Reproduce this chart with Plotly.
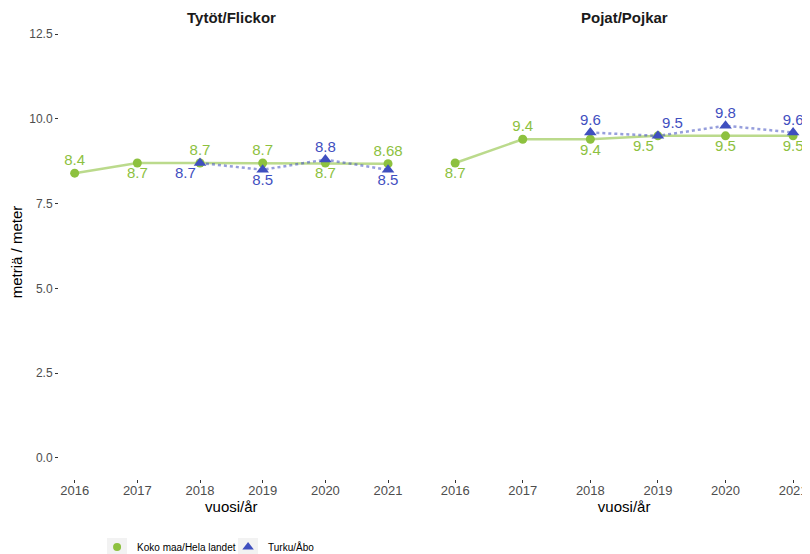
import plotly.graph_objects as go

years = [2016, 2017, 2018, 2019, 2020, 2021]
turku_years = [2018, 2019, 2020, 2021]

girls_all = [8.4, 8.7, 8.7, 8.7, 8.7, 8.68]
girls_turku = [8.7, 8.5, 8.8, 8.5]
boys_all = [8.7, 9.4, 9.4, 9.5, 9.5, 9.5]
boys_turku = [9.6, 9.5, 9.8, 9.6]

girls_all_labels = ["8.4", "8.7", "8.7", "8.7", "8.7", "8.68"]
girls_turku_labels = ["8.7", "8.5", "8.8", "8.5"]
boys_all_labels = ["8.7", "9.4", "9.4", "9.5", "9.5", "9.5"]
boys_turku_labels = ["9.6", "9.5", "9.8", "9.6"]

girls_all_pos = ["top center", "bottom center", "top center", "top center", "bottom center", "top center"]
girls_turku_pos = ["bottom left", "bottom center", "top center", "bottom center"]
boys_all_pos = ["bottom center", "top center", "bottom center", "bottom left", "bottom center", "bottom center"]
boys_turku_pos = ["top center", "top right", "top center", "top center"]

series_names = ["Koko maa/Hela landet", "Turku/Åbo"]
panel_titles = ["Tytöt/Flickor", "Pojat/Pojkar"]
y_ticks = [0.0, 2.5, 5.0, 7.5, 10.0, 12.5]
y_tick_text = ["0.0", "2.5", "5.0", "7.5", "10.0", "12.5"]

GREEN = "#8DC13F"
GREEN_LINE = "rgba(141,193,63,0.6)"
BLUE = "#3F4FBF"
BLUE_LINE = "rgba(63,79,191,0.55)"
FAM = "Liberation Sans, Arial, sans-serif"
LABEL_FONT = dict(family=FAM, size=15)

fig = go.Figure()

panels = [
    ("x", "y", girls_all, girls_all_labels, girls_all_pos, girls_turku, girls_turku_labels, girls_turku_pos),
    ("x2", "y2", boys_all, boys_all_labels, boys_all_pos, boys_turku, boys_turku_labels, boys_turku_pos),
]
for xa, ya, a_vals, a_lab, a_pos, t_vals, t_lab, t_pos in panels:
    fig.add_trace(go.Scatter(
        x=years, y=a_vals, xaxis=xa, yaxis=ya, mode="lines",
        line=dict(color=GREEN_LINE, width=2.5), showlegend=False, hoverinfo="skip"))
    fig.add_trace(go.Scatter(
        x=turku_years, y=t_vals, xaxis=xa, yaxis=ya, mode="lines",
        line=dict(color=BLUE_LINE, width=2.5, dash="dot"), showlegend=False, hoverinfo="skip"))
    fig.add_trace(go.Scatter(
        x=years, y=a_vals, xaxis=xa, yaxis=ya, mode="markers",
        marker=dict(color=GREEN, size=9, symbol="circle"),
        showlegend=False, name=series_names[0]))
    fig.add_trace(go.Scatter(
        x=turku_years, y=t_vals, xaxis=xa, yaxis=ya, mode="markers",
        marker=dict(color=BLUE, size=11, symbol="triangle-up"),
        showlegend=False, name=series_names[1]))
    # value labels (small transparent anchor markers keep the labels close)
    fig.add_trace(go.Scatter(
        x=years, y=a_vals, xaxis=xa, yaxis=ya, mode="markers+text",
        marker=dict(color="rgba(0,0,0,0)", size=5),
        text=a_lab, textposition=a_pos, textfont=dict(color=GREEN, **LABEL_FONT),
        cliponaxis=False, showlegend=False, hoverinfo="skip"))
    fig.add_trace(go.Scatter(
        x=turku_years, y=t_vals, xaxis=xa, yaxis=ya, mode="markers+text",
        marker=dict(color="rgba(0,0,0,0)", size=5),
        text=t_lab, textposition=t_pos, textfont=dict(color=BLUE, **LABEL_FONT),
        cliponaxis=False, showlegend=False, hoverinfo="skip"))

# legend-only entries
fig.add_trace(go.Scatter(x=[None], y=[None], mode="markers", name=series_names[0],
                         marker=dict(color=GREEN, size=8, symbol="circle")))
fig.add_trace(go.Scatter(x=[None], y=[None], mode="markers", name=series_names[1],
                         marker=dict(color=BLUE, size=10, symbol="triangle-up")))

xtickfont = dict(family=FAM, size=13, color="#4d4d4d")
ytickfont = dict(family=FAM, size=12, color="#4d4d4d")
titlefont = dict(family=FAM, size=15, color="#000000")


def xaxis_cfg(domain, anchor):
    return dict(domain=domain, anchor=anchor, range=[2015.75, 2021.25], tickmode="array",
                tickvals=years, ticktext=[str(y) for y in years], ticks="outside", ticklen=3,
                tickcolor="#333333", tickfont=xtickfont, showgrid=False, zeroline=False,
                showline=False, automargin=False, ticklabelstandoff=-4,
                title=dict(text="vuosi/år", font=titlefont, standoff=0))


ycommon = dict(range=[-0.62, 12.77], tickmode="array", tickvals=y_ticks, ticktext=y_tick_text,
               ticklen=3, tickcolor="#333333", tickfont=ytickfont,
               showgrid=False, zeroline=False, showline=False, automargin=False, domain=[0, 1])

# light grey legend key backgrounds (ggplot style)
key_boxes = [
    dict(type="rect", xref="paper", yref="paper", x0=0.0639, x1=0.0905, y0=-0.1696, y1=-0.130,
         fillcolor="#f2f2f2", line=dict(width=0), layer="below"),
    dict(type="rect", xref="paper", yref="paper", x0=0.2383, x1=0.2650, y0=-0.1696, y1=-0.130,
         fillcolor="#f2f2f2", line=dict(width=0), layer="below"),
]

fig.update_layout(
    width=802, height=546,
    margin=dict(l=51, r=0, t=17, b=75),
    plot_bgcolor="white", paper_bgcolor="white",
    font=dict(family=FAM),
    xaxis=xaxis_cfg([0, 0.459], "y"),
    xaxis2=xaxis_cfg([0.505, 1.0], "y2"),
    yaxis=dict(anchor="x", ticks="outside",
               title=dict(text="metriä / meter", font=titlefont, standoff=4), **ycommon),
    yaxis2=dict(anchor="x2", showticklabels=False, ticks="", **ycommon),
    legend=dict(orientation="h", x=0.0507, y=0.0128, xref="paper", yref="container",
                xanchor="left", yanchor="middle", bgcolor="rgba(0,0,0,0)",
                font=dict(family=FAM, size=10, color="#000000"), itemwidth=30,
                entrywidth=86, entrywidthmode="pixels"),
    shapes=key_boxes,
    annotations=[
        dict(text="<b>" + panel_titles[0] + "</b>", x=0.2295, y=1.0, xref="paper", yref="paper",
             xanchor="center", yanchor="top", yshift=17, showarrow=False, borderpad=0,
             font=dict(family=FAM, size=15, color="#1a1a1a")),
        dict(text="<b>" + panel_titles[1] + "</b>", x=0.7525, y=1.0, xref="paper", yref="paper",
             xanchor="center", yanchor="top", yshift=17, showarrow=False, borderpad=0,
             font=dict(family=FAM, size=15, color="#1a1a1a")),
    ],
)

fig.write_html("out.html")
